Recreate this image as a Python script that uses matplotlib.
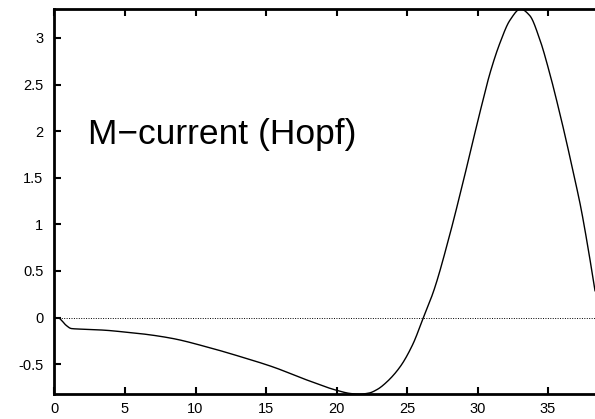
import matplotlib
matplotlib.use("Agg")
import matplotlib.pyplot as plt
import numpy as np

plt.rcParams['font.family'] = ['Liberation Sans', 'DejaVu Sans']

# Curve
t = [0.0, 0.3, 0.5, 0.8, 1.2, 2.0, 3.5, 4.9, 6.5, 8.4, 10.8, 13.2, 15.5, 17.9,
     20.0, 21.0, 21.6, 22.3, 22.9, 23.5, 24.5, 25.4, 26.16, 26.9, 28.05, 29.0,
     30.2, 30.9, 31.6, 32.3, 33.05, 33.7, 34.4, 35.1, 35.85, 36.3, 36.8, 37.3,
     37.8, 38.35]
v = [0.0, -0.005, -0.03, -0.08, -0.118, -0.125, -0.135, -0.154, -0.18, -0.225,
     -0.315, -0.42, -0.53, -0.67, -0.78, -0.815, -0.822, -0.81, -0.77, -0.70,
     -0.53, -0.29, 0.0, 0.29, 0.90, 1.47, 2.22, 2.63, 2.95, 3.19, 3.31, 3.24,
     2.99, 2.63, 2.18, 1.89, 1.55, 1.20, 0.78, 0.27]

xticks = [0, 5, 10, 15, 20, 25, 30, 35]
yticks = [-0.5, 0, 0.5, 1, 1.5, 2, 2.5, 3]
ytick_labels = ['-0.5', '0', '0.5', '1', '1.5', '2', '2.5', '3']
label = "M\u2212current (Hopf)"


def pchip(x, y, xn):
    x = np.asarray(x, float)
    y = np.asarray(y, float)
    h = np.diff(x)
    d = np.diff(y) / h
    n = len(x)
    m = np.zeros(n)
    for k in range(1, n - 1):
        if d[k - 1] * d[k] <= 0:
            m[k] = 0.0
        else:
            w1 = 2 * h[k] + h[k - 1]
            w2 = h[k] + 2 * h[k - 1]
            m[k] = (w1 + w2) / (w1 / d[k - 1] + w2 / d[k])
    m[0] = d[0]
    m[-1] = d[-1]
    idx = np.clip(np.searchsorted(x, xn) - 1, 0, n - 2)
    hk = h[idx]
    s = (xn - x[idx]) / hk
    h00 = 2 * s**3 - 3 * s**2 + 1
    h10 = s**3 - 2 * s**2 + s
    h01 = -2 * s**3 + 3 * s**2
    h11 = s**3 - s**2
    return h00 * y[idx] + h10 * hk * m[idx] + h01 * y[idx + 1] + h11 * hk * m[idx + 1]


ts = np.linspace(t[0], t[-1], 2000)
vs = pchip(t, v, ts)

fig = plt.figure(figsize=(5.95, 4.19), dpi=100)
ax = fig.add_axes([54.5 / 595, 1 - 394 / 419, (595 - 54.5) / 595, (394 - 9) / 419])
ax.plot(ts, vs, color='black', lw=1.0)
ax.axhline(0, color='black', lw=0.7, ls=(0, (1, 1.5)))

ax.set_xlim(0, 38.33)
ax.set_ylim(-0.82, 3.31)
ax.set_xticks(xticks)
ax.set_yticks(yticks)
ax.set_yticklabels(ytick_labels)
ax.tick_params(direction='in', length=5, width=1.5, labelsize=10.5,
               top=True, right=False, pad=6)
ax.tick_params(axis='y', pad=8)
for s in ['left', 'top', 'bottom']:
    ax.spines[s].set_linewidth(2)
ax.spines['right'].set_visible(False)

ax.text(2.4, 1.865, label, fontsize=25.5, ha='left', va='baseline')

fig.savefig('out.png', dpi=100)
